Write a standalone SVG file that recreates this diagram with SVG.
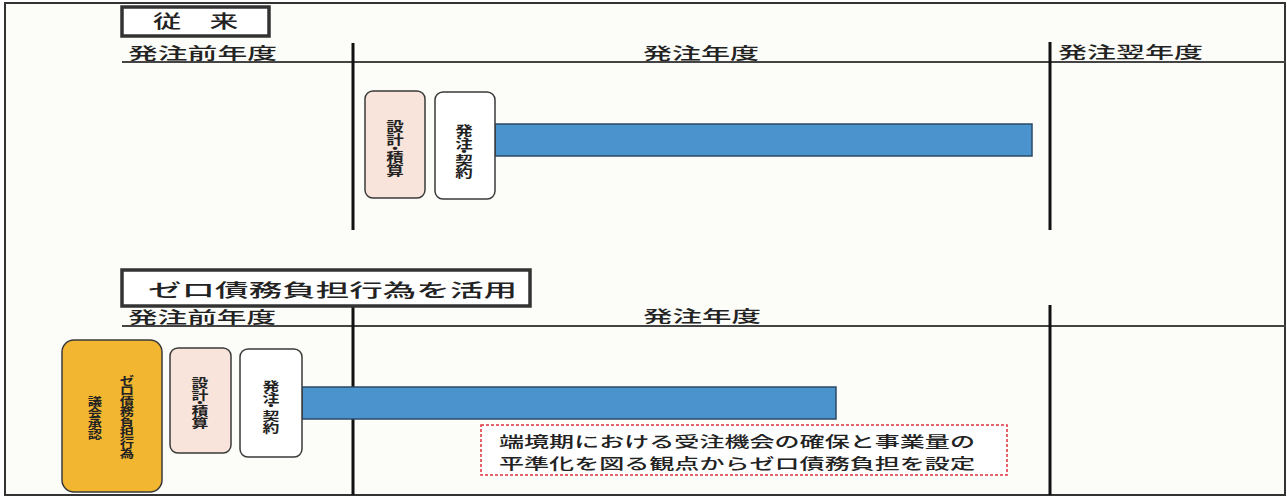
<svg xmlns="http://www.w3.org/2000/svg" width="1287" height="497" viewBox="0 0 1287 497">
<style>
text{font-family:"Noto Sans CJK JP","Noto Sans CJK SC",sans-serif;fill:#222}
.hdr{font-size:16px;font-weight:500}
.ttl{font-size:18px;font-weight:500}
.vt{font-size:13px;font-weight:bold;text-anchor:middle}
.vs{font-size:12.5px;font-weight:bold;text-anchor:middle}
.vy{font-size:11px;font-weight:bold;text-anchor:middle}
.note{font-size:15px;font-weight:500}
.div{stroke:#111;stroke-width:3}
.ul{stroke:#444;stroke-width:2}
.tbox{fill:#fff;stroke:#333;stroke-width:3.5}
.pink{fill:#f8e4db;stroke:#3a3a3a;stroke-width:1.5}
.white{fill:#fff;stroke:#3a3a3a;stroke-width:1.5}
.yellow{fill:#f2b631;stroke:#3a3a3a;stroke-width:1.5}
.bar{fill:#4b93cd;stroke:#2b4a66;stroke-width:1.5}
</style>
<rect x="0" y="0" width="1287" height="497" fill="#fff"/>
<rect id="frame" x="5" y="3" width="1280" height="492" fill="#fcfcf8" stroke="#333" stroke-width="2"/>

<g id="grid">
  <line class="ul" x1="122" y1="62" x2="1286" y2="62"/>
  <line class="div" x1="353" y1="43" x2="353" y2="230"/>
  <line class="div" x1="1050" y1="42" x2="1050" y2="230"/>
  <line class="ul" x1="122" y1="326" x2="1286" y2="326"/>
  <line class="div" x1="353" y1="307" x2="353" y2="495"/>
  <line class="div" x1="1050" y1="305" x2="1050" y2="495"/>
</g>

<g id="title-top">
  <rect class="tbox" x="122" y="7" width="147" height="29"/>
  <text class="ttl" x="153" y="28" textLength="85" lengthAdjust="spacingAndGlyphs">従　来</text>
</g>
<g id="title-bottom">
  <rect class="tbox" x="122" y="270" width="408" height="36"/>
  <text class="ttl" x="148" y="297" textLength="369" lengthAdjust="spacingAndGlyphs">ゼロ債務負担行為を活用</text>
</g>

<g id="headers-top">
  <text class="hdr" x="128" y="59" textLength="149" lengthAdjust="spacingAndGlyphs">発注前年度</text>
  <text class="hdr" x="643" y="59" textLength="116" lengthAdjust="spacingAndGlyphs">発注年度</text>
  <text class="hdr" x="1058" y="58" textLength="145" lengthAdjust="spacingAndGlyphs">発注翌年度</text>
</g>
<g id="headers-bottom">
  <text class="hdr" x="128" y="323" textLength="148" lengthAdjust="spacingAndGlyphs">発注前年度</text>
  <text class="hdr" x="643" y="322" textLength="118" lengthAdjust="spacingAndGlyphs">発注年度</text>
</g>

<g id="bars">
  <rect class="bar" x="495" y="124" width="537" height="32"/>
  <rect class="bar" x="302" y="387" width="534" height="32"/>
</g>

<g id="design-top">
  <rect class="pink" x="365" y="91" width="60" height="107" rx="8"/>
  <text class="vt" transform="translate(395,131) scale(1.35,1)">設</text>
  <text class="vt" transform="translate(395,144) scale(1.35,1)">計</text>
  <text class="vt" transform="translate(395,153) scale(1.35,1)">・</text>
  <text class="vt" transform="translate(395,162) scale(1.35,1)">積</text>
  <text class="vt" transform="translate(395,175) scale(1.35,1)">算</text>
</g>
<g id="order-top">
  <rect class="white" x="435" y="92" width="60" height="107" rx="8"/>
  <text class="vt" transform="translate(464,135) scale(1.35,1)">発</text>
  <text class="vt" transform="translate(464,148) scale(1.35,1)">注</text>
  <text class="vt" transform="translate(464,156) scale(1.35,1)">・</text>
  <text class="vt" transform="translate(464,165) scale(1.35,1)">契</text>
  <text class="vt" transform="translate(464,177) scale(1.35,1)">約</text>
</g>

<g id="approval">
  <rect class="yellow" x="62" y="340" width="100" height="152" rx="12"/>
  <text class="vy" transform="translate(127,384.5) scale(1.3,1)">ゼ</text>
  <text class="vy" transform="translate(127,395) scale(1.3,1)">ロ</text>
  <text class="vy" transform="translate(127,405.5) scale(1.3,1)">債</text>
  <text class="vy" transform="translate(127,416) scale(1.3,1)">務</text>
  <text class="vy" transform="translate(127,426.5) scale(1.3,1)">負</text>
  <text class="vy" transform="translate(127,437) scale(1.3,1)">担</text>
  <text class="vy" transform="translate(127,447.5) scale(1.3,1)">行</text>
  <text class="vy" transform="translate(127,458) scale(1.3,1)">為</text>
  <text class="vy" transform="translate(95,405.5) scale(1.3,1)">議</text>
  <text class="vy" transform="translate(95,416.5) scale(1.3,1)">会</text>
  <text class="vy" transform="translate(95,427.5) scale(1.3,1)">承</text>
  <text class="vy" transform="translate(95,438.5) scale(1.3,1)">認</text>
</g>
<g id="design-bottom">
  <rect class="pink" x="170" y="348" width="61" height="105" rx="8"/>
  <text class="vs" transform="translate(200,388) scale(1.35,1)">設</text>
  <text class="vs" transform="translate(200,400) scale(1.35,1)">計</text>
  <text class="vs" transform="translate(200,408) scale(1.35,1)">・</text>
  <text class="vs" transform="translate(200,416) scale(1.35,1)">積</text>
  <text class="vs" transform="translate(200,428) scale(1.35,1)">算</text>
</g>
<g id="order-bottom">
  <rect class="white" x="240" y="349" width="62" height="108" rx="8"/>
  <text class="vs" transform="translate(271,391) scale(1.35,1)">発</text>
  <text class="vs" transform="translate(271,403) scale(1.35,1)">注</text>
  <text class="vs" transform="translate(271,411) scale(1.35,1)">・</text>
  <text class="vs" transform="translate(271,421) scale(1.35,1)">契</text>
  <text class="vs" transform="translate(271,433) scale(1.35,1)">約</text>
</g>

<g id="note">
  <rect x="481" y="425" width="526" height="50" fill="#fff" stroke="#e0303c" stroke-width="1.5" stroke-dasharray="3 2"/>
  <text class="note" x="499" y="447" textLength="476" lengthAdjust="spacingAndGlyphs">端境期における受注機会の確保と事業量の</text>
  <text class="note" x="499" y="469" textLength="476" lengthAdjust="spacingAndGlyphs">平準化を図る観点からゼロ債務負担を設定</text>
</g>
</svg>
